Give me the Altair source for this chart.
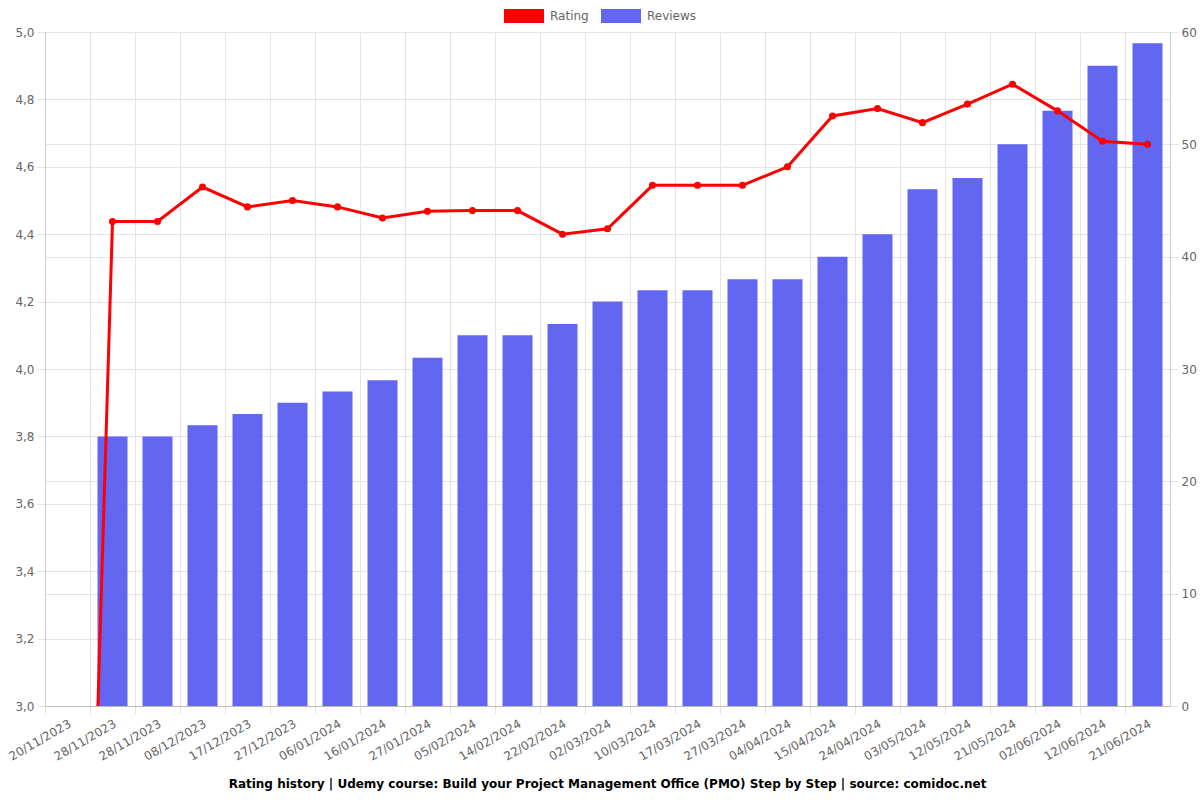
import altair as alt
import pandas as pd

dates = ["20/11/2023", "28/11/2023", "28/11/2023", "08/12/2023", "17/12/2023", "27/12/2023",
         "06/01/2024", "16/01/2024", "27/01/2024", "05/02/2024", "14/02/2024", "22/02/2024",
         "02/03/2024", "10/03/2024", "17/03/2024", "27/03/2024", "04/04/2024", "15/04/2024",
         "24/04/2024", "03/05/2024", "12/05/2024", "21/05/2024", "02/06/2024", "12/06/2024",
         "21/06/2024"]
ratings = [0, 4.4375, 4.4375, 4.54, 4.481, 4.50, 4.481, 4.448, 4.468, 4.47, 4.47, 4.40, 4.416,
           4.545, 4.545, 4.545, 4.60, 4.751, 4.773, 4.731, 4.786, 4.845, 4.766, 4.676, 4.667]
reviews = [0, 24, 24, 25, 26, 27, 28, 29, 31, 33, 33, 34, 36, 37, 37, 38, 38, 40, 42, 46, 47,
           50, 53, 57, 59]
rating_ticks = [3.0, 3.2, 3.4, 3.6, 3.8, 4.0, 4.2, 4.4, 4.6, 4.8, 5.0]
review_ticks = [0, 10, 20, 30, 40, 50, 60]
series_names = ["Rating", "Reviews"]
series_colors = ["#ff0000", "#6366f1"]
title_text = ("Rating history | Udemy course: Build your Project Management Office (PMO) "
              "Step by Step | source: comidoc.net")

df = pd.DataFrame({
    "idx": list(range(len(dates))),
    "date": dates,
    "rating": ratings,
    "reviews": reviews,
    "series": ["Reviews"] * len(dates),
})

FONT = "DejaVu Sans"
GRID = "#e4e4e4"
LABEL = "#666666"
label_array = "[" + ",".join("'" + d + "'" for d in dates) + "]"

x_enc = alt.X(
    "idx:O",
    scale=alt.Scale(paddingInner=0, paddingOuter=0),
    axis=alt.Axis(
        title=None,
        bandPosition=0,
        labelAngle=330,
        labelAlign="right",
        labelBaseline="top",
        labelPadding=4,
        labelExpr=label_array + "[datum.value]",
        grid=True,
        gridColor=GRID,
        tickColor=GRID,
        tickSize=8,
        domainColor="#bbbbbb",
        labelColor=LABEL,
        labelFont=FONT,
        labelFontSize=12,
    ),
)

bars = alt.Chart(df).mark_bar(width=alt.RelativeBandSize(0.667)).encode(
    x=x_enc,
    y=alt.Y(
        "reviews:Q",
        scale=alt.Scale(domain=[0, 60], nice=False),
        axis=alt.Axis(
            orient="right",
            title=None,
            values=review_ticks,
            grid=True,
            gridColor=GRID,
            tickColor=GRID,
            tickSize=8,
            labelPadding=3,
            domainColor="#cccccc",
            labelColor=LABEL,
            labelFont=FONT,
            labelFontSize=12,
        ),
    ),
    color=alt.Color(
        "series:N",
        scale=alt.Scale(domain=series_names, range=series_colors),
        legend=alt.Legend(
            orient="none",
            legendX=459,
            legendY=-36,
            direction="horizontal",
            title=None,
            symbolType="M-1,-0.35H1V0.35H-1Z",
            symbolSize=1600,
            symbolStrokeWidth=0,
            symbolOpacity=1,
            labelFont=FONT,
            labelFontSize=12,
            labelColor=LABEL,
            labelOffset=6,
            columnPadding=12,
            padding=0,
        ),
    ),
)

y_rating = alt.Y(
    "rating:Q",
    scale=alt.Scale(domain=[3, 5], nice=False, zero=False),
    axis=alt.Axis(
        orient="left",
        title=None,
        values=rating_ticks,
        labelExpr="replace(format(datum.value, '.1f'), '.', ',')",
        grid=True,
        gridColor=GRID,
        tickColor=GRID,
        tickSize=8,
        labelPadding=3,
        domainColor="#cccccc",
        labelColor=LABEL,
        labelFont=FONT,
        labelFontSize=12,
    ),
)

line = alt.Chart(df).mark_line(color="#ff0000", strokeWidth=3, clip=True).encode(
    x=x_enc, y=y_rating
)
points = alt.Chart(df).mark_circle(color="#ff0000", size=50, opacity=1, clip=True).encode(
    x=x_enc, y=y_rating
)

chart = (
    alt.layer(bars, line + points)
    .resolve_scale(y="independent")
    .properties(
        width=1125,
        height=674,
        autosize=alt.AutoSizeParams(type="none"),
        padding={"left": 45, "top": 32, "right": 30, "bottom": 94},
        title=alt.TitleParams(
            title_text,
            orient="bottom",
            anchor="middle",
            font=FONT,
            fontSize=12,
            fontWeight="bold",
            color="#000000",
            offset=17,
        ),
    )
    .configure_view(stroke=None)
    .configure(background="white")
)

chart.save("out.html", embed_options={"renderer": "svg", "actions": False})
